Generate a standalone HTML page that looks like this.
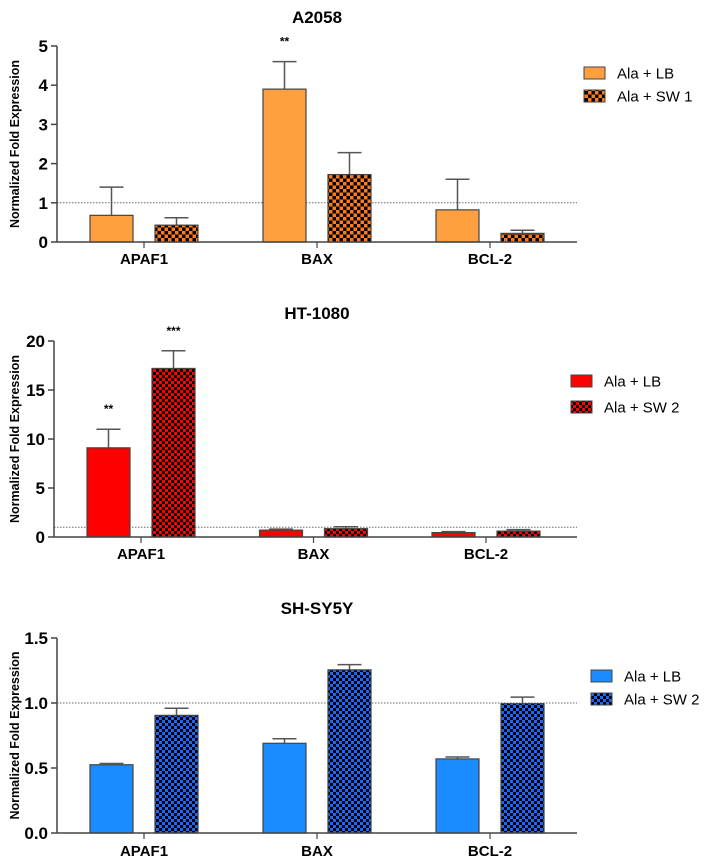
<!DOCTYPE html>
<html><head><meta charset="utf-8"><style>
html,body{margin:0;padding:0;background:#fff;}
svg{display:block;font-family:"Liberation Sans",Arial,sans-serif;}
</style></head><body>
<svg id="chart" width="710" height="865" viewBox="0 0 710 865">
<defs>
<pattern id="chkO" width="7" height="7" patternUnits="userSpaceOnUse"><rect width="7" height="7" fill="#000"/><rect width="3.5" height="3.5" fill="#ff7a1a"/><rect x="3.5" y="3.5" width="3.5" height="3.5" fill="#ff7a1a"/></pattern>
<pattern id="chkR" width="6" height="6" patternUnits="userSpaceOnUse"><rect width="6" height="6" fill="#000"/><rect width="3" height="3" fill="#ff0000"/><rect x="3" y="3" width="3" height="3" fill="#ff0000"/></pattern>
<pattern id="chkB" width="6" height="6" patternUnits="userSpaceOnUse"><rect width="6" height="6" fill="#000"/><rect width="3" height="3" fill="#1a66ff"/><rect x="3" y="3" width="3" height="3" fill="#1a66ff"/></pattern>
</defs>
</svg>
<script>
const categories = ["APAF1","BAX","BCL-2"];
// A2058
const a2058LB = [0.68, 3.9, 0.82];
const a2058LBErr = [1.4, 4.6, 1.6];
const a2058SW = [0.43, 1.72, 0.22];
const a2058SWErr = [0.62, 2.28, 0.3];
const a2058Ticks = [0,1,2,3,4,5];
const a2058Stars = ["", "**", ""];
// HT-1080
const htLB = [9.1, 0.7, 0.45];
const htLBErr = [11, 0.8, 0.55];
const htSW = [17.2, 0.85, 0.6];
const htSWErr = [19, 1.05, 0.75];
const htTicks = [0,5,10,15,20];
const htStarsLB = ["**","",""];
const htStarsSW = ["***","",""];
// SH-SY5Y
const shLB = [0.525, 0.69, 0.57];
const shLBErr = [0.535, 0.725, 0.585];
const shSW = [0.905, 1.255, 0.995];
const shSWErr = [0.96, 1.295, 1.045];
const shTicks = ["0.0","0.5","1.0","1.5"];

const NS="http://www.w3.org/2000/svg";
const svg=document.getElementById('chart');
function mk(tag,attrs,parent,name){const e=document.createElementNS(NS,tag);for(const k in attrs)e.setAttribute(k,attrs[k]);(parent||svg).appendChild(e);


return e;}
function txt(s,attrs,parent,name){const e=mk('text',attrs,parent,name);e.textContent=s;return e;}

function panel(o){
  const g=mk('g',{},svg,o.id+'-panel');
  const x0=o.axisX, x1=577, yb=o.y0, yt=o.yTop, max=o.max;
  const y=v=>yb-(v/max)*(yb-yt);
  txt(o.title,{x:317,y:o.titleY,'text-anchor':'middle','font-weight':'bold','font-size':17,fill:'#000'},g,o.id+'-title');
  mk('line',{x1:x0,x2:x1,y1:y(1),y2:y(1),stroke:'#666','stroke-width':1,'stroke-dasharray':'1.5,1.5'},g,'reference-line');
  categories.forEach((c,i)=>{
    const cx=o.catX0+i*o.catStep;
    [[o.lb,o.lbErr,o.lbFill,-1,o.starsLB],[o.sw,o.swErr,o.swFill,1,o.starsSW]].forEach(([vals,errs,fill,side,stars],k)=>{
      const bx = side<0 ? cx-o.gapIn-43 : cx+o.gapIn;
      const mx = bx+21.5;
      mk('line',{x1:mx,x2:mx,y1:y(vals[i]),y2:y(errs[i]),stroke:'#555','stroke-width':1.5},g,'error-bar');
      mk('line',{x1:mx-12,x2:mx+12,y1:y(errs[i]),y2:y(errs[i]),stroke:'#555','stroke-width':1.5},g,'error-cap');
      mk('rect',{x:bx,y:y(vals[i]),width:43,height:yb-y(vals[i]),fill:fill,stroke:'#444','stroke-width':1.2},g,'bar-'+c.toLowerCase()+(k?'-sw':'-lb'));
      if(stars && stars[i]) txt(stars[i],{x:mx,y:y(errs[i])-16,'text-anchor':'middle','font-weight':'bold','font-size':12},g,'significance-mark');
    });
    mk('line',{x1:cx,x2:cx,y1:yb,y2:yb+6,stroke:'#444','stroke-width':1.2},g,'x-tick');
    txt(c,{x:cx,y:o.labelY,'text-anchor':'middle','font-weight':'bold','font-size':15},g,'x-label-'+c.toLowerCase());
  });
  mk('line',{x1:x0,x2:x1,y1:yb,y2:yb,stroke:'#444','stroke-width':1.5},g,'x-axis');
  mk('line',{x1:x0,x2:x0,y1:yt,y2:yb,stroke:'#444','stroke-width':1.5},g,'y-axis');
  o.ticks.forEach(t=>{const v=parseFloat(t);
    mk('line',{x1:x0-6,x2:x0,y1:y(v),y2:y(v),stroke:'#444','stroke-width':1.5},g,'y-tick');
    txt(String(t),{x:x0-9,y:y(v)+6,'text-anchor':'end','font-weight':'bold','font-size':17},g,'y-tick-label');
  });
  const my=(yb+yt)/2;
  txt('Normalized Fold Expression',{x:0,y:0,transform:`translate(19,${my}) rotate(-90)`,'text-anchor':'middle','font-weight':'bold','font-size':12.5},g,'y-axis-title');
  [[o.lbFill,'Ala + LB'],[o.swFill,o.swName]].forEach(([f,n],k)=>{
    const cy=o.legY[k];
    mk('rect',{x:o.legX,y:cy-6,width:21,height:12,fill:f,stroke:'#444','stroke-width':1},g,'legend-swatch');
    txt(n,{x:o.legX+33,y:cy+5.5,'font-size':15},g,'legend-entry');
  });
}
panel({id:'a2058',title:'A2058',titleY:23,axisX:57,y0:242,yTop:46,max:5,ticks:a2058Ticks,lb:a2058LB,lbErr:a2058LBErr,sw:a2058SW,swErr:a2058SWErr,lbFill:'#ffa040',swFill:'url(#chkO)',starsLB:a2058Stars,starsSW:null,catX0:144,catStep:173,gapIn:11,labelY:264,legX:584,legY:[73,96],swName:'Ala + SW 1'});
panel({id:'ht1080',title:'HT-1080',titleY:319,axisX:54,y0:537,yTop:341,max:20,ticks:htTicks,lb:htLB,lbErr:htLBErr,sw:htSW,swErr:htSWErr,lbFill:'#ff0000',swFill:'url(#chkR)',starsLB:htStarsLB,starsSW:htStarsSW,catX0:141,catStep:172.5,gapIn:11,labelY:559,legX:571,legY:[381,407],swName:'Ala + SW 2'});
panel({id:'shsy5y',title:'SH-SY5Y',titleY:614,axisX:57,y0:833,yTop:638,max:1.5,ticks:shTicks,lb:shLB,lbErr:shLBErr,sw:shSW,swErr:shSWErr,lbFill:'#1a8cff',swFill:'url(#chkB)',starsLB:null,starsSW:null,catX0:144,catStep:173,gapIn:11,labelY:856,legX:591,legY:[676,699],swName:'Ala + SW 2'});
</script>
</body></html>
